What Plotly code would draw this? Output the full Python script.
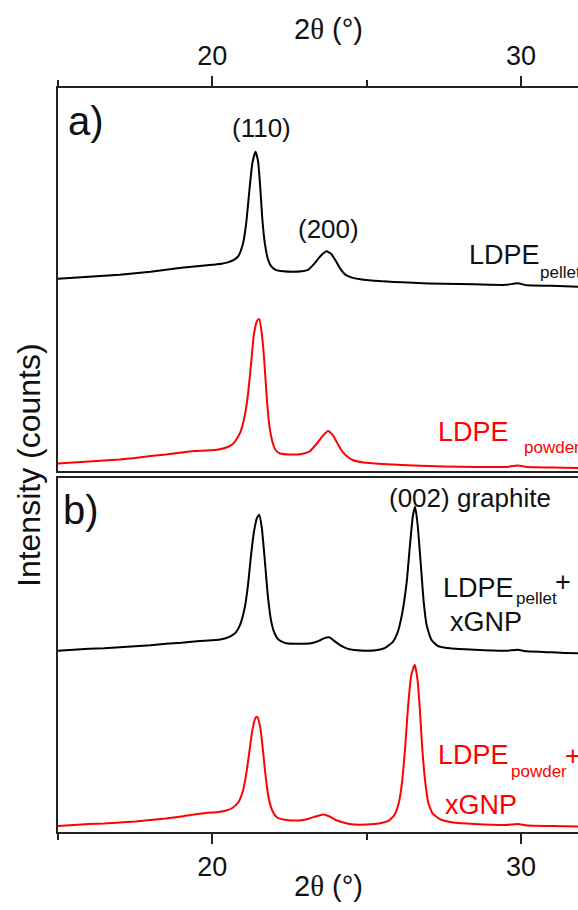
import plotly.graph_objects as go

# ---------------- data ----------------
# Panel a) LDPE pellet (black)
tt_a_pellet = [15.0, 15.5, 16.0, 16.5, 17.0, 17.5, 18.0, 18.5, 19.0, 19.5, 20.0, 20.3, 20.5, 20.7,
               20.85, 21.0, 21.1, 21.2, 21.3, 21.4, 21.48, 21.55, 21.62, 21.7, 21.8, 21.9, 22.05,
               22.3, 22.6, 22.9, 23.1, 23.3, 23.5, 23.7, 23.85, 24.0, 24.15, 24.3, 24.5, 24.8,
               25.5, 26.5, 27.5, 28.5, 29.5, 29.9, 30.2, 31.0, 31.85, 33.0]
int_a_pellet = [192, 193, 194, 195, 196, 197.5, 199, 201, 203, 204.5, 206, 207, 208.5, 211,
                215, 228, 248, 280, 308, 319, 310, 285, 252, 228, 212, 205, 201,
                199.5, 199, 199.5, 201, 207, 214.5, 219.5, 217, 210, 202, 196.5, 193.5, 191.5,
                189.5, 188, 187, 186.5, 186, 187.5, 185.5, 185, 184, 183.5]

# Panel a) LDPE powder (red)
tt_a_powder = [15.0, 15.5, 16.0, 16.5, 17.0, 17.5, 18.0, 18.5, 19.0, 19.4, 19.8, 20.2, 20.5, 20.7,
               20.9, 21.05, 21.15, 21.25, 21.35, 21.45, 21.52, 21.6, 21.68, 21.76, 21.85, 21.95,
               22.05, 22.2, 22.5, 22.9, 23.15, 23.35, 23.55, 23.75, 23.9, 24.05, 24.2, 24.35,
               24.55, 24.9, 25.5, 26.5, 27.5, 28.5, 29.5, 29.9, 30.2, 31.0, 31.85, 33.0]
int_a_powder = [7.5, 8.5, 9.5, 10.5, 11.5, 13, 15, 16.5, 18.5, 20, 20.5, 21.5, 24, 28,
                38, 55, 75, 105, 137, 150, 152, 138, 112, 75, 45, 29,
                21, 17.5, 16.5, 17, 19.5, 26, 34, 40, 36, 28, 20, 15,
                11, 8.5, 7, 5.5, 4.5, 4, 4, 5.5, 4, 3.5, 3, 3]

# Panel b) LDPE pellet + xGNP (black)
tt_b_pellet = [15.0, 15.5, 16.0, 16.5, 17.0, 17.5, 18.0, 18.5, 19.0, 19.5, 20.0, 20.3, 20.55, 20.75,
               20.9, 21.05, 21.15, 21.25, 21.35, 21.45, 21.52, 21.6, 21.7, 21.8, 21.9, 22.0,
               22.15, 22.4, 22.8, 23.2, 23.45, 23.65, 23.8, 23.95, 24.15, 24.4, 24.7, 25.0,
               25.3, 25.6, 25.85, 26.0, 26.15, 26.3, 26.4, 26.5, 26.57, 26.65, 26.75, 26.85,
               26.95, 27.1, 27.3, 27.7, 28.5, 29.5, 29.9, 30.2, 31.0, 31.85, 33.0]
int_b_pellet = [181, 182, 183, 183.5, 184.5, 185.5, 186.5, 188, 189, 190.5, 191.5, 192.5, 195, 199,
                207, 224, 245, 275, 300, 314, 317, 305, 272, 236, 212, 200,
                192, 188.5, 188, 188.5, 191, 194, 194.5, 191, 186.5, 183, 181.5, 181,
                181.5, 184, 190, 199, 218, 250, 285, 316, 325, 308, 270, 230,
                206, 192, 186, 183.5, 182, 181, 182, 180.5, 179.5, 178.5, 178]

# Panel b) LDPE powder + xGNP (red)
tt_b_powder = [15.0, 15.5, 16.0, 16.5, 17.0, 17.5, 18.0, 18.5, 19.0, 19.4, 19.8, 20.2, 20.45, 20.65,
               20.85, 21.0, 21.1, 21.2, 21.3, 21.4, 21.46, 21.55, 21.63, 21.72, 21.82, 21.95,
               22.1, 22.4, 22.8, 23.1, 23.35, 23.6, 23.8, 24.0, 24.3, 24.6, 25.0, 25.4,
               25.7, 25.9, 26.05, 26.15, 26.25, 26.35, 26.45, 26.56, 26.65, 26.72, 26.8, 26.9,
               27.0, 27.15, 27.4, 27.8, 28.5, 29.5, 29.9, 30.2, 31.0, 31.85, 33.0]
int_b_powder = [6, 7, 8, 8.5, 9.5, 10.5, 12, 13.5, 15.5, 17.5, 19, 20, 21.5, 24,
                30, 42, 58, 80, 102, 114, 115, 105, 85, 58, 35, 21,
                14.5, 12, 11.5, 13, 15.5, 17.5, 15.5, 12, 9, 7.5, 7.5, 8.5,
                11, 17, 30, 50, 85, 128, 157, 167, 152, 125, 85, 50,
                29, 18, 12.5, 9.5, 8, 7, 8, 6.5, 6, 5.5, 5.5]

x_range = [15.0, 31.85]
x_major_ticks = [20, 30]
ya_range = [0, 382.7]
yb_range = [0, 354.2]

# ---------------- layout geometry ----------------
W, H = 578, 910
ML, MR, MT, MB = 58, 0, 88, 78
PW, PH = W - ML - MR, H - MT - MB


def px(xp):
    return (xp - ML) / PW


def py(yp):
    return (H - MB - yp) / PH


FONT = "Liberation Sans, Arial, sans-serif"
AX = "#222222"

fig = go.Figure()
fig.add_trace(go.Scatter(x=tt_a_pellet, y=int_a_pellet, xaxis="x2", yaxis="y2", mode="lines",
                         line=dict(color="black", width=2, shape="spline", smoothing=0.5)))
fig.add_trace(go.Scatter(x=tt_a_powder, y=int_a_powder, xaxis="x2", yaxis="y2", mode="lines",
                         line=dict(color="#ff0000", width=2, shape="spline", smoothing=0.5)))
fig.add_trace(go.Scatter(x=tt_b_pellet, y=int_b_pellet, xaxis="x", yaxis="y", mode="lines",
                         line=dict(color="black", width=2, shape="spline", smoothing=0.5)))
fig.add_trace(go.Scatter(x=tt_b_powder, y=int_b_powder, xaxis="x", yaxis="y", mode="lines",
                         line=dict(color="#ff0000", width=2, shape="spline", smoothing=0.5)))

xcommon = dict(range=x_range, showline=True, linecolor=AX, linewidth=2, mirror=True,
               showgrid=False, zeroline=False, ticks="outside", ticklen=10, tickwidth=2,
               tickcolor=AX, tickvals=x_major_ticks,
               minor=dict(dtick=5, tick0=0, ticks="outside", ticklen=6, tickwidth=2, tickcolor=AX),
               tickfont=dict(family=FONT, size=27, color="#111"))
ycommon = dict(showline=True, linecolor=AX, linewidth=2, showgrid=False, zeroline=False,
               showticklabels=False, ticks="")

dom_b = [0, py(477.5)]
dom_a = [py(471), 1]

fig.update_layout(
    width=W, height=H,
    margin=dict(l=ML, r=MR, t=MT, b=MB),
    paper_bgcolor="white", plot_bgcolor="white",
    showlegend=False,
    xaxis=dict(anchor="y", domain=[0, 1], side="bottom", **xcommon),
    xaxis2=dict(anchor="y2", domain=[0, 1], side="top", matches="x", **xcommon),
    yaxis=dict(domain=dom_b, range=yb_range, anchor="x", **ycommon),
    yaxis2=dict(domain=dom_a, range=ya_range, anchor="x2", **ycommon),
)

ann = []


def txt(t, x, y, size, color="#111", xanchor="left", angle=0):
    ann.append(dict(text=t, x=px(x), y=py(y), xref="paper", yref="paper", showarrow=False,
                    xanchor=xanchor, yanchor="middle", textangle=angle,
                    font=dict(family=FONT, size=size, color=color)))


THETA_TITLE = "2<span style='font-family:Liberation Serif'>θ</span> (°)"

# axis titles
txt(THETA_TITLE, 328, 29, 29, xanchor="center")
txt(THETA_TITLE, 328, 886, 29, xanchor="center")
txt("Intensity (counts)", 29, 465, 32, xanchor="center", angle=-90)

# panel labels
txt("a)", 66, 121, 40)
txt("b)", 61, 510, 40)

# peak labels
txt("(110)", 261, 128, 26, xanchor="center")
txt("(200)", 328, 229, 26, xanchor="center")
txt("(002) graphite", 387, 498, 26)

# sample labels
RED = "#ff0000"
txt("LDPE", 467, 255, 27)
txt("pellet", 538, 272, 17)
txt("LDPE", 436, 432, 27, color=RED)
txt("powder", 522, 447, 17, color=RED)

txt("LDPE", 441, 588, 27)
txt("pellet", 514, 598, 17)
txt("+", 553, 582, 27)
txt("xGNP", 448, 622, 27)

txt("LDPE", 436, 755, 27, color=RED)
txt("powder", 509, 771, 17, color=RED)
txt("+", 563, 756, 27, color=RED)
txt("xGNP", 443, 805, 27, color=RED)

fig.update_layout(annotations=ann)
fig.write_html("out.html", config={"displayModeBar": False},
               post_script="document.body.style.margin='0';document.body.style.overflow='hidden';")
